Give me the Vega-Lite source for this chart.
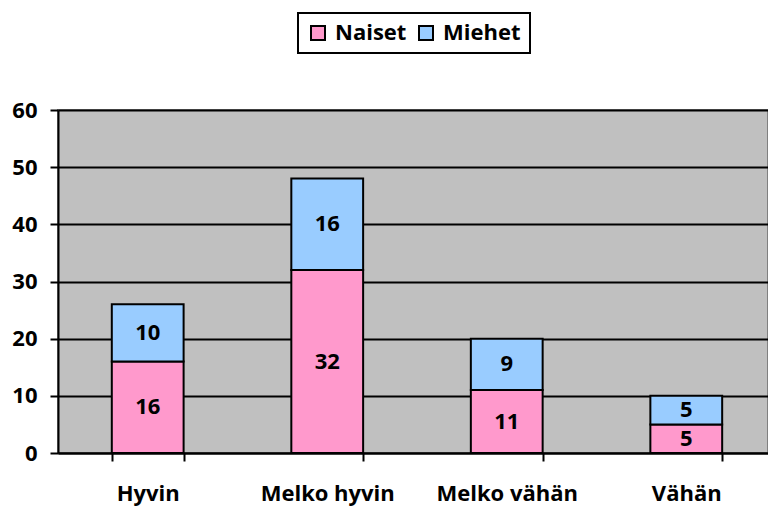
{
  "$schema": "https://vega.github.io/schema/vega-lite/v6.json",
  "width": 710,
  "height": 343,
  "autosize": "none",
  "padding": {"left": 58, "top": 110, "right": 0, "bottom": 53},
  "background": "white",
  "config": {
    "font": "Open Sans",
    "view": {"fill": "#C0C0C0", "stroke": "#808080", "strokeWidth": 2}
  },
  "data": {
    "values": [
      {"kategoria": "Hyvin", "sukupuoli": "Naiset", "arvo": 16, "jarj": 1},
      {"kategoria": "Hyvin", "sukupuoli": "Miehet", "arvo": 10, "jarj": 2},
      {"kategoria": "Melko hyvin", "sukupuoli": "Naiset", "arvo": 32, "jarj": 1},
      {"kategoria": "Melko hyvin", "sukupuoli": "Miehet", "arvo": 16, "jarj": 2},
      {"kategoria": "Melko vähän", "sukupuoli": "Naiset", "arvo": 11, "jarj": 1},
      {"kategoria": "Melko vähän", "sukupuoli": "Miehet", "arvo": 9, "jarj": 2},
      {"kategoria": "Vähän", "sukupuoli": "Naiset", "arvo": 5, "jarj": 1},
      {"kategoria": "Vähän", "sukupuoli": "Miehet", "arvo": 5, "jarj": 2}
    ]
  },
  "transform": [
    {"stack": "arvo", "groupby": ["kategoria"], "sort": [{"field": "jarj"}], "as": ["y0", "y1"]},
    {"calculate": "(datum.y0 + datum.y1) / 2", "as": "ymid"}
  ],
  "encoding": {
    "x": {
      "field": "kategoria",
      "type": "nominal",
      "sort": ["Hyvin", "Melko hyvin", "Melko vähän", "Vähän"],
      "scale": {"paddingInner": 0.6, "paddingOuter": 0.2775, "align": 0.54},
      "axis": {
        "title": null,
        "labelAngle": 0,
        "labelFont": "Open Sans",
        "labelFontWeight": "bold",
        "labelFontSize": 22,
        "labelColor": "black",
        "labelBaseline": "alphabetic",
        "labelPadding": 39,
        "tickBand": "extent",
        "tickSize": 8,
        "tickColor": "black",
        "tickWidth": 2,
        "domainColor": "black",
        "domainWidth": 2
      }
    }
  },
  "layer": [
    {
      "mark": {"type": "bar", "stroke": "black", "strokeWidth": 2},
      "encoding": {
        "y": {
          "field": "y0",
          "type": "quantitative",
          "scale": {"domain": [0, 60]},
          "axis": {
            "title": null,
            "values": [0, 10, 20, 30, 40, 50, 60],
            "labelFont": "Open Sans",
            "labelFontWeight": "bold",
            "labelFontSize": 22,
            "labelColor": "black",
            "labelPadding": 13,
            "tickSize": 8,
            "tickColor": "black",
            "tickWidth": 2,
            "domainColor": "black",
            "domainWidth": 2,
            "grid": true,
            "gridColor": "black",
            "gridWidth": 2
          }
        },
        "y2": {"field": "y1"},
        "color": {
          "field": "sukupuoli",
          "type": "nominal",
          "scale": {"domain": ["Naiset", "Miehet"], "range": ["#FF99CC", "#99CCFF"]},
          "legend": {
            "title": null,
            "orient": "none",
            "direction": "horizontal",
            "legendX": 240,
            "legendY": -97,
            "symbolType": "square",
            "symbolSize": 196,
            "symbolStrokeColor": "black",
            "symbolStrokeWidth": 2,
            "symbolOpacity": 1,
            "labelFont": "Open Sans",
            "labelFontWeight": "bold",
            "labelFontSize": 22,
            "labelColor": "black",
            "columnPadding": 8,
            "labelOffset": 6,
            "strokeColor": "black",
            "padding": 9,
            "fillColor": "white",
            "encode": {"legend": {"update": {"strokeWidth": {"value": 2}}}}
          }
        }
      }
    },
    {
      "mark": {"type": "text", "font": "Open Sans", "fontWeight": "bold", "fontSize": 22, "color": "black", "baseline": "middle"},
      "encoding": {
        "y": {"field": "ymid", "type": "quantitative"},
        "text": {"field": "arvo", "type": "quantitative"}
      }
    }
  ]
}
